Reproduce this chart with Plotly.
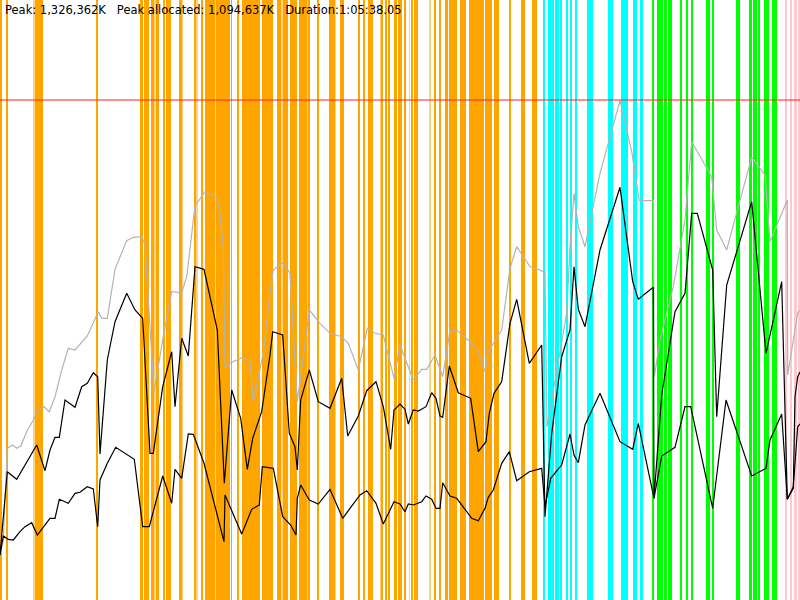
import plotly.graph_objects as go

# memory heights are in chart units where 500 = peak (1,326,362K)
PEAK_K = 1326362
PEAK_UNITS = 500

title_text = "Peak: 1,326,362K   Peak allocated: 1,094,637K   Duration:1:05:38.05"

# total memory (grey)
total_t = [0, 3.3, 7.3, 12.7, 16.7, 20.7, 26.7, 33.3, 37.3, 44, 49.3, 55, 61.7, 68.3, 75, 87.3,
           98.3, 101.7, 107.3, 115, 126.7, 133.3, 141.7, 145, 154, 163.3, 171.7, 181.7, 186.7,
           190, 195, 205, 216.7, 220, 223.3, 225, 230, 241.7, 250, 253.3, 263.3, 270, 273.3,
           282.7, 290, 297.3, 309.3, 320, 330, 341.7, 348.3, 358.3, 367.3, 375, 383.3, 394, 400,
           413.3, 421.7, 426.7, 435, 442.7, 450, 456.7, 470, 478.3, 485, 488.3, 501.7, 510,
           516.7, 530, 540, 545, 547, 566.7, 570, 574, 578.3, 585, 591.7, 600, 620, 631.7,
           639.3, 653.3, 654.3, 660, 673.3, 685, 691.7, 711.7, 716.7, 726.7, 738.3, 751.7, 765,
           770, 787.3, 787.7, 797.7, 800]
total_mem = [45, 60, 151.7, 155, 151.7, 154, 168.3, 180, 189.3, 193.3, 188.3, 203.3, 230, 251.7,
             250, 264, 288.3, 281.7, 281.7, 330.7, 359.3, 362.7, 363.3, 355, 208.3, 263.3, 308.3,
             307.3, 323.3, 353.3, 394, 408.3, 402.7, 386.7, 353.3, 232, 237, 242, 240, 198.3, 247,
             307, 330, 337.3, 327, 198.3, 290, 276.7, 266.7, 263.3, 256.7, 230, 271.7, 266.7, 265,
             221.7, 255, 220, 230.7, 230.7, 245, 223.3, 269.3, 270, 258.3, 248.3, 228.3, 248.3,
             270, 331.7, 353.3, 333.3, 330, 327.3, 173, 286.7, 353.3, 406.7, 373.3, 353.3, 386.7,
             426.7, 499.3, 448.3, 399.3, 399.3, 223.3, 260, 313.3, 380, 458.3, 423.3, 370, 350,
             393.3, 442.7, 425, 358.3, 400, 225, 286.7, 290]

# allocated memory (black, upper)
alloc_t = [0, 7.3, 16.7, 36.7, 45, 50, 55, 59.3, 65, 75, 81.7, 87.3, 93.3, 97.7, 100, 107.3, 115,
           126.7, 135, 142.7, 150, 153.3, 162.7, 171.7, 175, 181.7, 188.3, 195, 204, 217.3, 224.3,
           231.7, 240.7, 247.3, 252.7, 261.7, 270, 272.7, 282.7, 289.3, 295, 297.3, 300.7, 309.3,
           318.3, 330, 341.7, 347.7, 358.3, 366.7, 376, 383.3, 390.7, 394, 400, 405, 408.3, 413.3,
           418.3, 426, 431.7, 436, 440, 442.7, 449.3, 458.3, 470.7, 478.3, 486, 489.3, 494, 501.7,
           510, 516.7, 529.3, 541.7, 545, 551.7, 561.7, 570, 574, 578.3, 585, 600, 620, 632.7,
           638.3, 653.3, 654, 661.7, 675, 685, 691.7, 697.3, 712.7, 716.7, 726.7, 751.7, 766,
           781.7, 787.3, 793.3, 795, 797.7, 800]
alloc_mem = [45, 128.3, 120.7, 155, 129.3, 150, 162.7, 162.7, 200, 192.7, 213.3, 216.7, 227.3,
             223.3, 146, 240, 278.3, 306.7, 290, 281.7, 146.7, 146.7, 213.3, 248.3, 193.3, 261.7,
             244, 333.3, 330.7, 270, 116.7, 210, 181.7, 130.7, 161.7, 188.3, 245, 268.3, 265,
             166.7, 153.3, 130, 200, 230, 198.3, 191.7, 221.7, 164, 184, 209.3, 218.3, 193.3,
             150.7, 190, 196, 190.7, 176, 190, 189, 193.3, 207.3, 201.7, 184, 182.7, 234, 207.3,
             201.7, 148.3, 158.3, 186.7, 206.7, 218.3, 276.7, 300.7, 236.7, 255, 83.3, 166.7,
             243.3, 270, 333.3, 290.7, 273.3, 350, 412.7, 318.3, 300.7, 312.7, 101.7, 205, 288.3,
             306.7, 386.7, 386.7, 330, 183.3, 315, 398.3, 246.7, 318.3, 100.7, 111.7, 203.3, 223.3,
             228]

# live memory (black, lower)
live_t = [0, 3.3, 8.3, 13.3, 20, 25, 31.7, 37.3, 50, 55, 59.3, 68.3, 75, 80, 87.3, 93.3, 97.7, 100,
          107.3, 115.7, 134.3, 142.7, 149.3, 162.7, 171.7, 175, 181.7, 188.3, 193.3, 204, 224, 225,
          241.7, 251.7, 259.3, 262.3, 273.3, 282.7, 290.7, 296, 297.3, 300.7, 309.3, 318.3, 330,
          342.7, 350, 360, 366.7, 376, 383.3, 394, 400, 405, 408.3, 413.3, 421.7, 426, 431.7, 436,
          440, 442.7, 450, 456.7, 471.7, 478.3, 485, 488.3, 493.3, 501.7, 509.3, 516.7, 529.3,
          541.7, 545, 550.7, 561.7, 570, 574, 578.3, 585, 600, 620, 632.7, 638.3, 654, 661.7, 675,
          685, 690.7, 712.7, 726, 751.7, 766, 770, 781.7, 787.3, 793.3, 797.7, 800]
live_mem = [45, 64, 60.7, 60, 68.3, 73.3, 77.3, 65, 81.7, 81.7, 100.7, 96.7, 106.7, 107.7, 113.3,
            111, 73.3, 120, 136.7, 152.7, 140.7, 73.3, 73.3, 124, 96.7, 130.7, 121.7, 166, 165.7,
            136.7, 58.3, 105, 66, 90.7, 95, 133.3, 131.7, 83.3, 75, 65, 101.7, 115, 100, 96, 110.7,
            81.7, 91.7, 105, 109.3, 96.7, 76, 98.3, 96, 88.3, 96, 95, 98.3, 104, 100.7, 91.7, 91.7,
            117.3, 104, 101.7, 81.7, 79.3, 91.7, 102.7, 110, 136.7, 148.3, 119.3, 128.3, 131.7,
            93.3, 121.7, 135, 166, 145, 137.3, 175, 206.7, 158.3, 150.7, 176.7, 101.7, 144, 152.7,
            193.3, 193.3, 91.7, 200, 124, 131.7, 160, 186, 100.7, 113.3, 173.3, 176]

# event spans (start, end) on the time axis
orange_spans = [(0, 1.7), (6, 7.7), (34.7, 43.3), (96.7, 97.7), (140, 143.3), (144.3, 149.3),
                (150.7, 154), (156, 158.7), (163.3, 165.3), (166, 167.3), (168.3, 170.7),
                (179.3, 181.7), (194, 196.3), (200.7, 203.3), (205, 215.3), (216.3, 230),
                (231, 232), (236.7, 238.7), (241.7, 252.7), (253.3, 260), (261.7, 273.3),
                (277, 281.3), (283.3, 288), (290, 292.7), (293.3, 297.3), (299, 306.7),
                (308.7, 310), (316.7, 318.7), (329.3, 334.7), (340, 341.7), (342.7, 344.3),
                (358.7, 360.3), (362.7, 365.3), (368.3, 373.3), (381.7, 383.3), (385, 386.7),
                (387.7, 390), (394.3, 396.7), (398.3, 401.7), (404.7, 405.7), (410.7, 412.7),
                (414.3, 418.3), (434.3, 436), (439.3, 441.3), (445, 448.3), (449.3, 452.7),
                (452.7, 456.7), (460.3, 465.7), (469, 476.7), (477.3, 484), (484.7, 488.7),
                (489.3, 492), (494, 499.3), (509, 510.7), (521, 522), (522.3, 524.7), (532, 536.7)]
orange_light_spans = [(33, 34.7), (154, 156), (181.7, 183), (196.3, 198), (215.3, 216.3),
                      (281.3, 282.3), (306.7, 307.7), (335, 336), (380, 381.7), (409, 410),
                      (429.3, 431)]
cyan_spans = [(543.7, 544.7), (547.7, 554.3), (555, 559.3), (560, 561.3), (565.7, 567.7),
              (570, 571.7), (575.7, 577), (587, 592.7), (608, 612.7), (621, 622.7), (623.3, 628.3),
              (633, 637.3), (640, 643.3)]
green_spans = [(652.3, 653.3), (657.3, 663.3), (664.3, 666.7), (667.7, 671.7), (680, 681.3),
               (685.7, 688), (691, 693), (705.7, 710), (711.7, 714.3), (735.7, 740.3),
               (749.3, 751.7), (752.7, 756.7), (758.3, 759.3), (764.3, 768.7), (771.7, 776.7)]
pink_spans = [(785.7, 787.3), (790, 791.7), (794.3, 796.7), (798.3, 800)]

Y_TOP = 600

fig = go.Figure()


def add_spans(spans, color):
    fig.add_trace(go.Bar(
        x=[(a + b) / 2 for a, b in spans],
        width=[b - a for a, b in spans],
        y=[Y_TOP] * len(spans),
        marker=dict(color=color, line=dict(width=0)),
        hoverinfo='skip'
    ))


add_spans(orange_light_spans, '#FFD27F')
add_spans(orange_spans, '#FFA500')
add_spans(cyan_spans, '#00FFFF')
add_spans(green_spans, '#00FF00')
add_spans(pink_spans, '#FFC8D0')

fig.add_trace(go.Scatter(x=total_t, y=total_mem, mode='lines',
                         line=dict(color='#B4B4B4', width=1.2)))
fig.add_trace(go.Scatter(x=alloc_t, y=alloc_mem, mode='lines',
                         line=dict(color='black', width=1.2)))
fig.add_trace(go.Scatter(x=live_t, y=live_mem, mode='lines',
                         line=dict(color='black', width=1.2)))

# peak line
fig.add_trace(go.Scatter(x=[0, 800], y=[PEAK_UNITS, PEAK_UNITS], mode='lines',
                         line=dict(color='rgba(255,40,40,0.7)', width=1.5)))

fig.add_annotation(text=title_text, xref='paper', yref='paper', x=0.004, y=0.998,
                   xanchor='left', yanchor='top', showarrow=False,
                   font=dict(family='DejaVu Sans', size=11.5, color='black'))

fig.update_layout(
    width=800, height=600,
    margin=dict(l=0, r=0, t=0, b=0),
    paper_bgcolor='white', plot_bgcolor='white',
    showlegend=False, barmode='overlay', bargap=0,
    xaxis=dict(range=[0, 800], visible=False, fixedrange=True),
    yaxis=dict(range=[0, Y_TOP], visible=False, fixedrange=True)
)

# drop the page's default body margin so the chart fills the window
fig.write_html("out.html", config={'displayModeBar': False},
               post_script="document.body.style.margin='0';")
